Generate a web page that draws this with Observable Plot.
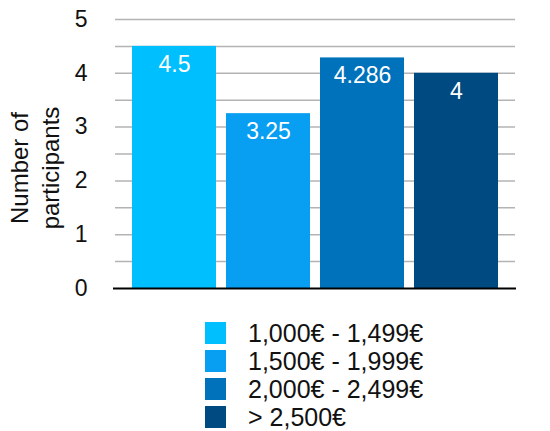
<!DOCTYPE html>
<html>
<head>
<meta charset="utf-8">
<script src="https://cdn.jsdelivr.net/npm/d3@7"></script>
<script src="https://cdn.jsdelivr.net/npm/@observablehq/plot@0.6"></script>
<style>
  html, body { margin: 0; padding: 0; background: #fff; }
  body { width: 550px; height: 431px; overflow: hidden; font-family: "Liberation Sans", Arial, sans-serif; }
  #legend { padding-top: 19px; margin-left: 205px; }
  .row { display: flex; align-items: center; height: 28px; }
  .sw { width: 21px; height: 22px; margin-right: 22px; flex: none; }
  .lab { font-size: 25px; color: #111; line-height: 1; }
</style>
</head>
<body>
<div id="chart"></div>
<div id="legend"></div>
<script>
const categories = ["1,000€ - 1,499€", "1,500€ - 1,999€", "2,000€ - 2,499€", "> 2,500€"];
const values = [4.5, 3.25, 4.286, 4];
const valueLabels = ["4.5", "3.25", "4.286", "4"];
const colors = ["#00BFFF", "#089EF2", "#0072BC", "#004A82"];
const yTicks = [0, 1, 2, 3, 4, 5];
const gridTicks = [0.5, 1, 1.5, 2, 2.5, 3, 3.5, 4, 4.5, 5];

const data = categories.map((c, i) => ({category: c, value: values[i], label: valueLabels[i]}));

const font = "Liberation Sans, Arial, sans-serif";

const chart = Plot.plot({
  width: 550,
  height: 300,
  marginTop: 19,
  marginBottom: 12,
  marginLeft: 115,
  marginRight: 35,
  style: {fontFamily: font, fontSize: "23px", color: "#111", background: "#fff"},
  x: {domain: categories, paddingInner: 0.106, paddingOuter: 0.17, axis: null},
  y: {domain: [0, 5], label: null},
  color: {domain: categories, range: colors},
  marks: [
    Plot.gridY(gridTicks, {stroke: "#b3b3b3", strokeOpacity: 1, strokeWidth: 1.5}),
    Plot.barY(data, {x: "category", y: "value", fill: "category"}),
    Plot.ruleY([0], {stroke: "#000", strokeWidth: 2, insetLeft: -2, insetRight: -1}),
    Plot.axisY(yTicks, {tickSize: 0, tickPadding: 28, fontSize: 23, label: null, tickFormat: d => String(d)}),
    Plot.text(data, {x: "category", y: "value", text: "label", fill: "white", fontSize: 23, dy: 18, lineAnchor: "middle"}),
    Plot.text(["Number of\nparticipants"], {frameAnchor: "left", rotate: -90, dx: -82, dy: 14, fontSize: 24, lineHeight: 1.3, lineAnchor: "middle", textAnchor: "middle", fill: "#111"})
  ]
});
document.getElementById("chart").appendChild(chart);

const legend = document.getElementById("legend");
categories.forEach((c, i) => {
  const row = document.createElement("div");
  row.className = "row";
  const sw = document.createElement("div");
  sw.className = "sw";
  sw.style.background = colors[i];
  const lab = document.createElement("span");
  lab.className = "lab";
  lab.textContent = c;
  row.appendChild(sw);
  row.appendChild(lab);
  legend.appendChild(row);
});
</script>
</body>
</html>
